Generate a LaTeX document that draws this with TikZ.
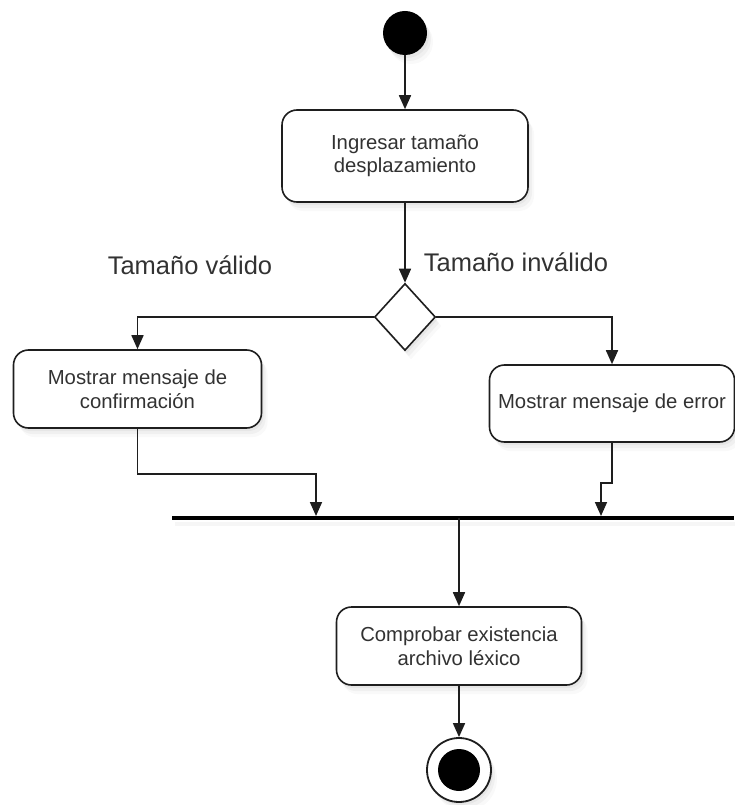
\documentclass[tikz,border=0pt]{standalone}
\usepackage{fontspec}
\setmainfont{Liberation Sans}
\usetikzlibrary{arrows.meta,shapes.geometric,shadows}

\definecolor{ink}{RGB}{30,30,30}
\definecolor{txt}{RGB}{50,50,50}

\tikzset{
  soft/.style={
    drop shadow={opacity=0.09,shadow xshift=2pt,shadow yshift=-3pt},
    drop shadow={opacity=0.07,shadow xshift=4pt,shadow yshift=-6pt},
    drop shadow={opacity=0.05,shadow xshift=6pt,shadow yshift=-9pt}},
  activity/.style={draw=ink,line width=1.6pt,rounded corners=15pt,fill=white,
    align=center,text=txt,font=\fontsize{20.3}{23.5}\selectfont,inner sep=0pt,soft},
  flow/.style={draw=ink,line width=1.7pt,-{Triangle[width=12pt,length=14pt]}},
  guard/.style={text=txt,font=\fontsize{25.5}{29}\selectfont,inner sep=0pt},
}

\begin{document}
\begin{tikzpicture}[x=1pt,y=-1pt]
\useasboundingbox (0,0) rectangle (734,805);

% start state
\node[circle,fill=black,minimum size=44pt,inner sep=0pt,soft] (start) at (405,33) {};

% activities
\node[activity,minimum width=246pt,minimum height=92pt] (ingresar) at (405,156)
  {Ingresar tamaño\\desplazamiento};
\node[draw=ink,line width=1.6pt,fill=white,shape=diamond,minimum width=61pt,
  minimum height=67pt,inner sep=0pt,soft] (dec) at (405,317) {};
\node[activity,minimum width=248pt,minimum height=78pt] (conf) at (137.5,389)
  {Mostrar mensaje de\\confirmación};
\node[activity,minimum width=245pt,minimum height=77pt] (err) at (612,403.5)
  {Mostrar mensaje de error};

% synchronisation bar
\node[fill=black,minimum width=562pt,minimum height=4pt,inner sep=0pt,
  drop shadow={opacity=0.07,shadow xshift=3pt,shadow yshift=-6pt}] (bar) at (453,518) {};
\coordinate (joinL) at (316,516);
\coordinate (joinR) at (601,516);

\node[activity,minimum width=245pt,minimum height=78pt] (comprobar) at (459,646)
  {Comprobar existencia\\archivo léxico};

% final state
\node[circle,draw=ink,line width=1.8pt,fill=white,minimum size=64pt,inner sep=0pt,soft]
  (final) at (459,770) {};
\node[circle,fill=black,minimum size=42pt,inner sep=0pt] (finaldot) at (final) {};

% guards
\node[guard] (lblok) at (190,265) {Tamaño válido};
\node[guard] (lblbad) at (516,262) {Tamaño inválido};

% control flows
\draw[flow] (start) -- (ingresar);
\draw[flow] (ingresar) -- (dec);
\draw[flow] (dec.west) -| (conf.north);
\draw[flow] (dec.east) -| (err.north);
\draw[flow] (conf.south) -- ++(0,45) -| (joinL);
\draw[flow] (err.south) -- ++(0,40) -| (joinR);
\draw[flow] (bar.center -| comprobar.north) -- (comprobar.north);
\draw[flow] (comprobar) -- (final);
\end{tikzpicture}
\end{document}
